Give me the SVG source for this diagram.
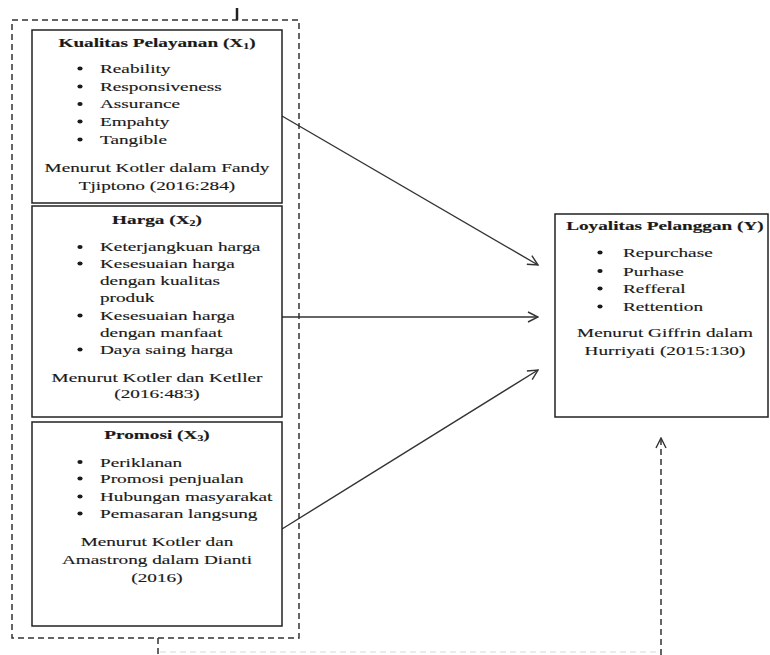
<svg xmlns="http://www.w3.org/2000/svg" width="770" height="655" viewBox="0 0 770 655">
<style>
.box{fill:#fff;stroke:#222;stroke-width:1.5}
.dash{fill:none;stroke:#333;stroke-width:1.5;stroke-dasharray:6 4}
.ln{stroke:#333;stroke-width:1.4;fill:none}
text{font-family:"Liberation Serif","Times New Roman",serif;font-size:13px;fill:#1a1a1a;stroke:#1a1a1a;stroke-width:0.15}
.b{font-weight:bold}
.m{text-anchor:middle}
.dot{fill:#1a1a1a}
</style>
<defs>
<marker id="ah" viewBox="0 0 12 12" refX="11" refY="6" markerWidth="12" markerHeight="12" markerUnits="userSpaceOnUse" orient="auto">
<path d="M1,1 L11,6 L1,11" fill="none" stroke="#333" stroke-width="1.4"/>
</marker>
</defs>
<rect width="770" height="655" fill="#fff"/>
<g id="group-x">
<rect x="12" y="20" width="287" height="618" class="dash"/>
<line x1="237" y1="8" x2="237" y2="20" stroke="#222" stroke-width="2.5"/>
</g>
<g id="connectors">
<line x1="282" y1="116" x2="538" y2="265" class="ln" marker-end="url(#ah)"/>
<line x1="282" y1="317" x2="538" y2="317" class="ln" marker-end="url(#ah)"/>
<line x1="282" y1="529" x2="538" y2="370" class="ln" marker-end="url(#ah)"/>
<line x1="158" y1="638" x2="158" y2="655" class="dash"/>
<line x1="160" y1="652" x2="661" y2="652" fill="none" stroke="#d8d8d8" stroke-width="1.2" stroke-dasharray="6 4"/>
<line x1="661" y1="655" x2="661" y2="438" class="dash" marker-end="url(#ah)"/>
</g>
<g id="x1">
<rect x="32" y="30" width="250" height="173" class="box"/>
<ellipse cx="80" cy="68.5" rx="2.6" ry="2.1" class="dot"/>
<ellipse cx="80" cy="86.5" rx="2.6" ry="2.1" class="dot"/>
<ellipse cx="80" cy="104" rx="2.6" ry="2.1" class="dot"/>
<ellipse cx="80" cy="121.5" rx="2.6" ry="2.1" class="dot"/>
<ellipse cx="80" cy="139.5" rx="2.6" ry="2.1" class="dot"/>
<g transform="scale(1.48,1)">
<text x="106.08" y="47" class="b m">Kualitas Pelayanan (X<tspan font-size="8" dy="2">1</tspan><tspan dy="-2">)</tspan></text>
<text x="67.57" y="73">Reability</text>
<text x="67.57" y="91">Responsiveness</text>
<text x="67.57" y="108.5">Assurance</text>
<text x="67.57" y="126">Empahty</text>
<text x="67.57" y="144">Tangible</text>
<text x="106.08" y="172" class="m">Menurut Kotler dalam Fandy</text>
<text x="106.08" y="190" class="m">Tjiptono (2016:284)</text>
</g>
</g>
<g id="x2">
<rect x="32" y="206" width="250" height="211" class="box"/>
<ellipse cx="80" cy="247" rx="2.6" ry="2.1" class="dot"/>
<ellipse cx="80" cy="263.5" rx="2.6" ry="2.1" class="dot"/>
<ellipse cx="80" cy="315.5" rx="2.6" ry="2.1" class="dot"/>
<ellipse cx="80" cy="349.5" rx="2.6" ry="2.1" class="dot"/>
<g transform="scale(1.48,1)">
<text x="106.08" y="224" class="b m">Harga (X<tspan font-size="8" dy="2">2</tspan><tspan dy="-2">)</tspan></text>
<text x="67.57" y="251.5">Keterjangkuan harga</text>
<text x="67.57" y="268">Kesesuaian harga</text>
<text x="67.57" y="285">dengan kualitas</text>
<text x="67.57" y="301.7">produk</text>
<text x="67.57" y="320">Kesesuaian harga</text>
<text x="67.57" y="336.7">dengan manfaat</text>
<text x="67.57" y="354">Daya saing harga</text>
<text x="106.08" y="381.7" class="m">Menurut Kotler dan Ketller</text>
<text x="106.08" y="398" class="m">(2016:483)</text>
</g>
</g>
<g id="x3">
<rect x="32" y="422" width="250" height="204" class="box"/>
<ellipse cx="80" cy="462" rx="2.6" ry="2.1" class="dot"/>
<ellipse cx="80" cy="478.5" rx="2.6" ry="2.1" class="dot"/>
<ellipse cx="80" cy="496.5" rx="2.6" ry="2.1" class="dot"/>
<ellipse cx="80" cy="513.5" rx="2.6" ry="2.1" class="dot"/>
<g transform="scale(1.48,1)">
<text x="106.08" y="439" class="b m">Promosi (X<tspan font-size="8" dy="2">3</tspan><tspan dy="-2">)</tspan></text>
<text x="67.57" y="466.7">Periklanan</text>
<text x="67.57" y="483">Promosi penjualan</text>
<text x="67.57" y="501">Hubungan masyarakat</text>
<text x="67.57" y="518">Pemasaran langsung</text>
<text x="106.08" y="546" class="m">Menurut Kotler dan</text>
<text x="106.08" y="564" class="m">Amastrong dalam Dianti</text>
<text x="106.08" y="581.7" class="m">(2016)</text>
</g>
</g>
<g id="y">
<rect x="555" y="214" width="213" height="203" class="box"/>
<ellipse cx="600" cy="252.5" rx="2.6" ry="2.1" class="dot"/>
<ellipse cx="600" cy="271" rx="2.6" ry="2.1" class="dot"/>
<ellipse cx="600" cy="288.5" rx="2.6" ry="2.1" class="dot"/>
<ellipse cx="600" cy="306.5" rx="2.6" ry="2.1" class="dot"/>
<g transform="scale(1.48,1)">
<text x="449.32" y="230" class="b m">Loyalitas Pelanggan (Y)</text>
<text x="420.95" y="257">Repurchase</text>
<text x="420.95" y="275.7">Purhase</text>
<text x="420.95" y="293">Refferal</text>
<text x="420.95" y="311">Rettention</text>
<text x="449.32" y="337" class="m">Menurut Giffrin dalam</text>
<text x="449.32" y="355" class="m">Hurriyati (2015:130)</text>
</g>
</g>
</svg>
